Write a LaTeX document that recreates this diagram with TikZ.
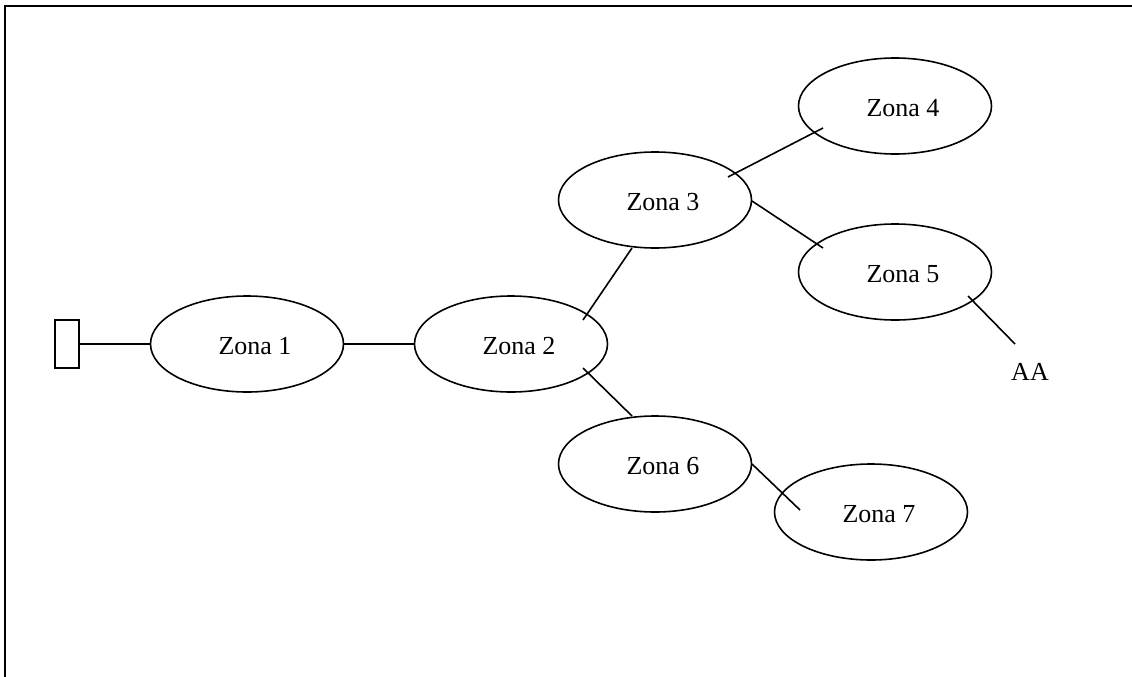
\documentclass[tikz,border=0pt]{standalone}
\usepackage{fontspec}
\setmainfont{Liberation Serif}
\usetikzlibrary{shapes.geometric,calc}
\begin{document}
\begin{tikzpicture}[x=1pt,y=-1pt,
  zonefont/.style={font=\fontsize{26}{29}\selectfont},
  zone/.style={draw,ellipse,line width=1.6pt,minimum width=193pt,minimum height=96pt,inner sep=0pt,
    label={[zonefont,inner sep=0pt,xshift=8pt,yshift=-2pt]center:#1}},
  link/.style={line width=1.6pt},
  frameline/.style={line width=2pt}]
\useasboundingbox (0,0) rectangle (1132,677);
% frame
\coordinate (fbl) at (5,677);
\coordinate (ftl) at (5,6);
\coordinate (ftr) at (1132,6);
\draw[frameline] (fbl) -- (ftl) -- (ftr);
% nodes
\node[draw,line width=1.6pt,minimum width=24pt,minimum height=48pt,inner sep=0pt] (port) at (67,344) {};
\node[zone=Zona 1] (z1) at (247,344) {};
\node[zone=Zona 2] (z2) at (511,344) {};
\node[zone=Zona 3] (z3) at (655,200) {};
\node[zone=Zona 4] (z4) at (895,106) {};
\node[zone=Zona 5] (z5) at (895,272) {};
\node[zone=Zona 6] (z6) at (655,464) {};
\node[zone=Zona 7] (z7) at (871,512) {};
\node[zonefont,inner sep=0pt] (aa) at (1030,372) {AA};
% connectors
\draw[link] (port.east) -- (z1.west);
\draw[link] (z1.east) -- (z2.west);
\draw[link] ($(z2)+(72,-24)$) -- ($(z3)+(-23,48)$);
\draw[link] ($(z2)+(72,24)$) -- ($(z6)+(-23,-48)$);
\draw[link] ($(z3)+(73,-23)$) -- ($(z4)+(-72,22)$);
\draw[link] ($(z3)+(97,1)$) -- ($(z5)+(-72,-24)$);
\draw[link] ($(z5)+(73,24)$) -- ($(aa)+(-15,-28)$);
\draw[link] ($(z6)+(97,0)$) -- ($(z7)+(-71,-2)$);
\end{tikzpicture}
\end{document}
